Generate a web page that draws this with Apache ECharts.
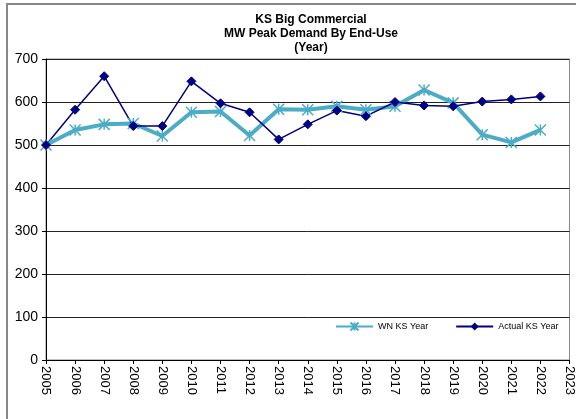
<!DOCTYPE html>
<html><head><meta charset="utf-8">
<script src="https://cdn.jsdelivr.net/npm/echarts@6/dist/echarts.min.js"></script>
<style>html,body{margin:0;padding:0;background:#fff}#c{width:576px;height:419px}</style>
</head><body><div id="c"></div>
<script>
var years = ['2005','2006','2007','2008','2009','2010','2011','2012','2013','2014','2015','2016','2017','2018','2019','2020','2021','2022','2023'];
var wnKS = [500,535,548,550,521,576,578,522,583,582,590,582,590,628,598,524,506,535];
var actualKS = [500,582,660,544,544,648,597,576,513,548,580,567,600,592,590,601,606,613];
var titleLines = ['KS Big Commercial','MW Peak Demand By End-Use','(Year)'];

var chart = echarts.init(document.getElementById('c'));
chart.setOption({
  animation:false,
  title:{text:titleLines.join('\n'),left:306,top:8,textAlign:'center',
    textStyle:{fontFamily:'Liberation Sans, Arial',fontSize:12,fontWeight:'bold',color:'#000',lineHeight:14}},
  graphic:[{type:'rect',shape:{x:7,y:4,width:600,height:450},style:{fill:'none',stroke:'#888',lineWidth:2},z:-1}],
  legend:{left:335,top:320,padding:0,itemGap:27,itemWidth:37,itemHeight:10,
    textStyle:{fontFamily:'Liberation Sans, Arial',fontSize:9,color:'#000'},
    data:['WN KS Year','Actual KS Year']},
  grid:{left:46,right:3,top:59,bottom:59,show:true,borderColor:'#888',borderWidth:1},
  xAxis:{type:'category',data:years,boundaryGap:false,
    axisLine:{lineStyle:{color:'#000',width:1}},
    axisTick:{show:true,alignWithLabel:true,length:4,lineStyle:{color:'#000'}},
    axisLabel:{rotate:-90,interval:0,fontFamily:'Liberation Sans, Arial',fontSize:13,color:'#000',margin:6},
    splitLine:{show:false}},
  yAxis:{type:'value',min:0,max:700,interval:100,
    axisLine:{show:true,lineStyle:{color:'#000'}},
    axisTick:{show:true,length:4,lineStyle:{color:'#000'}},
    axisLabel:{fontFamily:'Liberation Sans, Arial',fontSize:14,color:'#000',margin:8},
    splitLine:{lineStyle:{color:'#222',width:1}}},
  series:[
    {name:'WN KS Year',type:'line',data:wnKS,
     symbol:'path://M0 0L10 10M10 0L0 10M5 0L5 10',symbolSize:11,
     lineStyle:{color:'#4bacc6',width:4},
     itemStyle:{color:'none',borderColor:'#4bacc6',borderWidth:1.5}},
    {name:'Actual KS Year',type:'line',data:actualKS,
     symbol:'diamond',symbolSize:9,
     lineStyle:{color:'#000080',width:1.5},
     itemStyle:{color:'#000080',borderColor:'#000080'}}
  ]
});
</script></body></html>
